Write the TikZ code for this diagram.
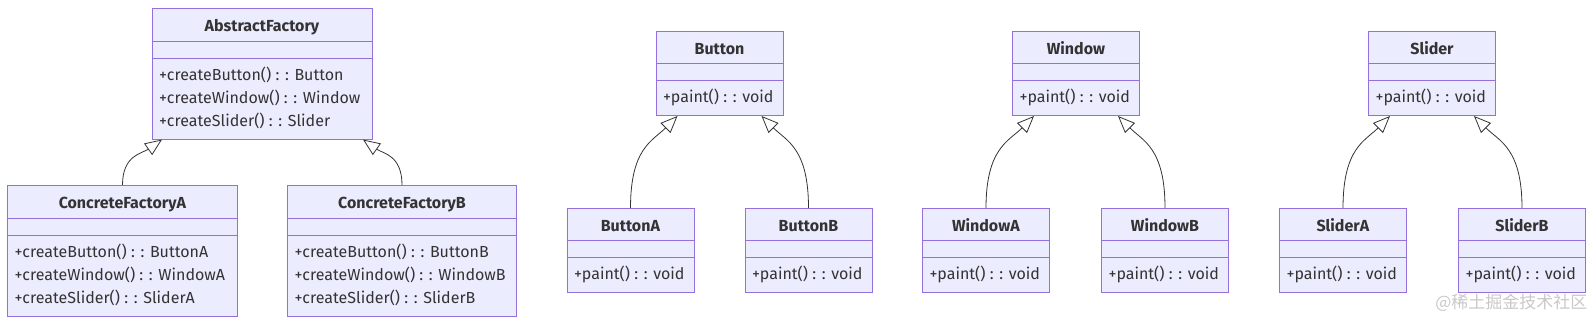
\documentclass[tikz,border=0pt]{standalone}
\usepackage{fontspec}
\setmainfont{Fira Sans}
\newfontfamily\cjkfont{Noto Sans CJK SC}
\usetikzlibrary{arrows.meta,positioning,calc,shapes.multipart}
\definecolor{clsfill}{HTML}{ECECFF}
\definecolor{clsline}{HTML}{9370DB}
\definecolor{clstext}{HTML}{333333}
\definecolor{wmark}{RGB}{200,200,200}
\newcommand{\clshead}[1]{\rule[-3pt]{0pt}{20pt}\textbf{#1}}
\newcommand{\clsgap}{\rule{0pt}{5pt}}
\newcommand{\clsops}[1]{\begin{tabular}{@{}l@{}}#1\end{tabular}}
\tikzset{cls/.style={rectangle split, rectangle split parts=3,
    rectangle split part align={center,left,left},
    draw=clsline, fill=clsfill, line width=1pt, inner xsep=7pt, inner ysep=5.5pt,
    anchor=north, text=clstext, font=\fontsize{16}{23}\selectfont},
  inherit/.style={-{Triangle[open,length=17pt,width=14pt]},clstext,line width=0.8pt}}

\begin{document}
\begin{tikzpicture}[x=1pt, y=-1pt]
\useasboundingbox (0,0) rectangle (1594,320);
% factories
\node[cls, minimum width=220pt] (af) at (262,8) {\clshead{AbstractFactory}
  \nodepart{second}\clsgap
  \nodepart{third}\clsops{+createButton() : : Button\\
    +createWindow() : : Window\\+createSlider() : : Slider}};
\node[cls, minimum width=230pt] (cfa) at (122.5,185) {\clshead{ConcreteFactoryA}
  \nodepart{second}\clsgap
  \nodepart{third}\clsops{+createButton() : : ButtonA\\
    +createWindow() : : WindowA\\+createSlider() : : SliderA}};
\node[cls, minimum width=229pt] (cfb) at (402,185) {\clshead{ConcreteFactoryB}
  \nodepart{second}\clsgap
  \nodepart{third}\clsops{+createButton() : : ButtonB\\
    +createWindow() : : WindowB\\+createSlider() : : SliderB}};
\draw[inherit] (cfa.north) .. controls +(0,-30) and +(-20,14) .. ($(af.south)+(-100,0)$);
\draw[inherit] (cfb.north) .. controls +(0,-30) and +(20,14) .. ($(af.south)+(101,0)$);
% products
\node[cls, minimum width=127pt] (btn) at (719.5,31) {\clshead{Button}
  \nodepart{second}\clsgap\nodepart{third}\clsops{+paint() : : void}};
\node[cls, minimum width=127pt] (btna) at (630.5,208) {\clshead{ButtonA}
  \nodepart{second}\clsgap\nodepart{third}\clsops{+paint() : : void}};
\node[cls, minimum width=127pt] (btnb) at (808.5,208) {\clshead{ButtonB}
  \nodepart{second}\clsgap\nodepart{third}\clsops{+paint() : : void}};
\node[cls, minimum width=127pt] (win) at (1076,31) {\clshead{Window}
  \nodepart{second}\clsgap\nodepart{third}\clsops{+paint() : : void}};
\node[cls, minimum width=127pt] (wina) at (986,208) {\clshead{WindowA}
  \nodepart{second}\clsgap\nodepart{third}\clsops{+paint() : : void}};
\node[cls, minimum width=127pt] (winb) at (1165,208) {\clshead{WindowB}
  \nodepart{second}\clsgap\nodepart{third}\clsops{+paint() : : void}};
\node[cls, minimum width=127pt] (sld) at (1432,31) {\clshead{Slider}
  \nodepart{second}\clsgap\nodepart{third}\clsops{+paint() : : void}};
\node[cls, minimum width=127pt] (slda) at (1343,208) {\clshead{SliderA}
  \nodepart{second}\clsgap\nodepart{third}\clsops{+paint() : : void}};
\node[cls, minimum width=127pt] (sldb) at (1522,208) {\clshead{SliderB}
  \nodepart{second}\clsgap\nodepart{third}\clsops{+paint() : : void}};
\draw[inherit] (btna.north) .. controls +(0,-60) and +(-25,25) .. ($(btn.south)+(-42,0)$);
\draw[inherit] (btnb.north) .. controls +(0,-60) and +(25,25) .. ($(btn.south)+(42,0)$);
\draw[inherit] (wina.north) .. controls +(0,-60) and +(-25,25) .. ($(win.south)+(-42,0)$);
\draw[inherit] (winb.north) .. controls +(0,-60) and +(25,25) .. ($(win.south)+(42,0)$);
\draw[inherit] (slda.north) .. controls +(0,-60) and +(-25,25) .. ($(sld.south)+(-42,0)$);
\draw[inherit] (sldb.north) .. controls +(0,-60) and +(25,25) .. ($(sld.south)+(42,0)$);
\node[font=\cjkfont\fontsize{17}{17}\selectfont, text=wmark, anchor=east] (wm) at (1591,303) {@稀土掘金技术社区};
\end{tikzpicture}
\end{document}
